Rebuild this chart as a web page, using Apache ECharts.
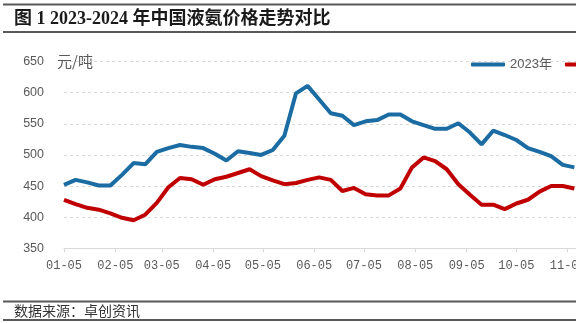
<!DOCTYPE html>
<html><head><meta charset="utf-8">
<script src="https://cdn.jsdelivr.net/npm/echarts@6/dist/echarts.min.js"></script>
<style>html,body{margin:0;padding:0;overflow:hidden;background:#fff;width:576px;height:323px}#c{width:640px;height:323px}</style>
</head><body><div id="c"></div><script>
// weekly observation dates (plotted on a 2023 date axis)
const weekDates = ['01-05','01-12','01-19','01-26','02-02','02-09','02-16','02-23','03-02','03-09','03-16','03-23','03-30','04-06','04-13','04-20','04-27','05-04','05-11','05-18','05-25','06-01','06-08','06-15','06-22','06-29','07-06','07-13','07-20','07-27','08-03','08-10','08-17','08-24','08-31','09-07','09-14','09-21','09-28','10-05','10-12','10-19','10-26','11-02','11-09'];
const price2023 = [452,460,456,451,451,468,487,485,505,511,516,513,511,502,491,506,503,500,508,531,599,611,589,567,563,548,554,556,565,565,554,548,542,542,551,536,517,539,532,524,511,505,498,484,480];
const price2024 = [428,421,415,412,406,399,395,404,423,448,463,461,452,461,465,471,477,466,459,453,455,460,464,460,442,447,437,435,435,446,480,496,490,477,453,436,420,420,413,422,428,441,450,450,446];
const seriesNames = ['2023年','2024年'];
const yMin = 350, yMax = 650, yStep = 50;
const titleText = '图 1 2023-2024 年中国液氨价格走势对比';
const unitText = '元/吨';
const sourceText = '数据来源：卓创资讯';

// daily category axis from 01-05 to 12-05
const days = [];
for (let t = Date.UTC(2023,0,5); t <= Date.UTC(2023,11,5); t += 86400000) {
  const d = new Date(t);
  days.push(String(d.getUTCMonth()+1).padStart(2,'0') + '-' + String(d.getUTCDate()).padStart(2,'0'));
}
const isMonthTick = (i, v) => v.slice(3) === '05';

const chart = echarts.init(document.getElementById('c'), null, {renderer:'canvas'});
const gray = '#595959';
chart.setOption({
  animation: false,
  backgroundColor: '#fff',
  grid: {left: 64, top: 61.6, width: (days.length - 1) * 1.657, height: 186.7, containLabel: false, outerBoundsMode: 'none'},
  legend: {
    data: seriesNames, left: 466, top: 53, width: 400, orient: 'horizontal', itemWidth: 34, itemHeight: 4, icon: 'roundRect', itemGap: 13,
    textStyle: {color: gray, fontSize: 13, fontFamily: '"Liberation Sans","Noto Sans CJK SC",sans-serif'}
  },
  xAxis: {
    type: 'category', data: days, boundaryGap: false,
    axisLine: {lineStyle: {color: '#d9d9d9', width: 1}},
    axisTick: {show: true, interval: isMonthTick, length: 4, lineStyle: {color: '#d9d9d9'}},
    axisLabel: {interval: isMonthTick, margin: 12, color: gray, fontSize: 12, fontFamily: '"Liberation Mono",monospace'},
    splitLine: {show: false}
  },
  yAxis: {
    type: 'value', min: yMin, max: yMax, interval: yStep,
    axisLine: {show: false}, axisTick: {show: false},
    axisLabel: {margin: 20, color: gray, fontSize: 12.5, fontFamily: '"Liberation Sans",sans-serif'},
    splitLine: {lineStyle: {color: '#d9d9d9', type: [3, 3], width: 1}}
  },
  series: [
    {name: seriesNames[0], type: 'line', symbol: 'none', data: weekDates.map((d, i) => [d, price2023[i]]),
     lineStyle: {width: 4, color: '#1a6ca3'}, itemStyle: {color: '#1a6ca3'}, z: 3},
    {name: seriesNames[1], type: 'line', symbol: 'none', data: weekDates.map((d, i) => [d, price2024[i]]),
     lineStyle: {width: 4, color: '#c00000'}, itemStyle: {color: '#c00000'}, z: 2}
  ],
  graphic: [
    {type: 'rect', shape: {x: 3, y: 3.5, width: 700, height: 2}, style: {fill: '#595959'}},
    {type: 'rect', shape: {x: 3, y: 31, width: 700, height: 2}, style: {fill: '#595959'}},
    {type: 'text', style: {text: titleText, x: 14, y: 19, verticalAlign: 'middle', align: 'left',
      font: 'bold 18px "Liberation Serif","Noto Sans CJK SC",serif', fill: '#1a1a1a'}},
    {type: 'text', style: {text: unitText, x: 57, y: 61, verticalAlign: 'middle', align: 'left',
      font: '15px "Noto Sans CJK SC",sans-serif', fill: gray}},
    {type: 'rect', shape: {x: 3, y: 300.5, width: 700, height: 2}, style: {fill: '#595959'}},
    {type: 'text', style: {text: sourceText, x: 14, y: 311, verticalAlign: 'middle', align: 'left',
      font: '14px "Noto Sans CJK SC",sans-serif', fill: '#333'}},
    {type: 'rect', shape: {x: 3, y: 319, width: 700, height: 2}, style: {fill: '#595959'}}
  ]
});
</script></body></html>
